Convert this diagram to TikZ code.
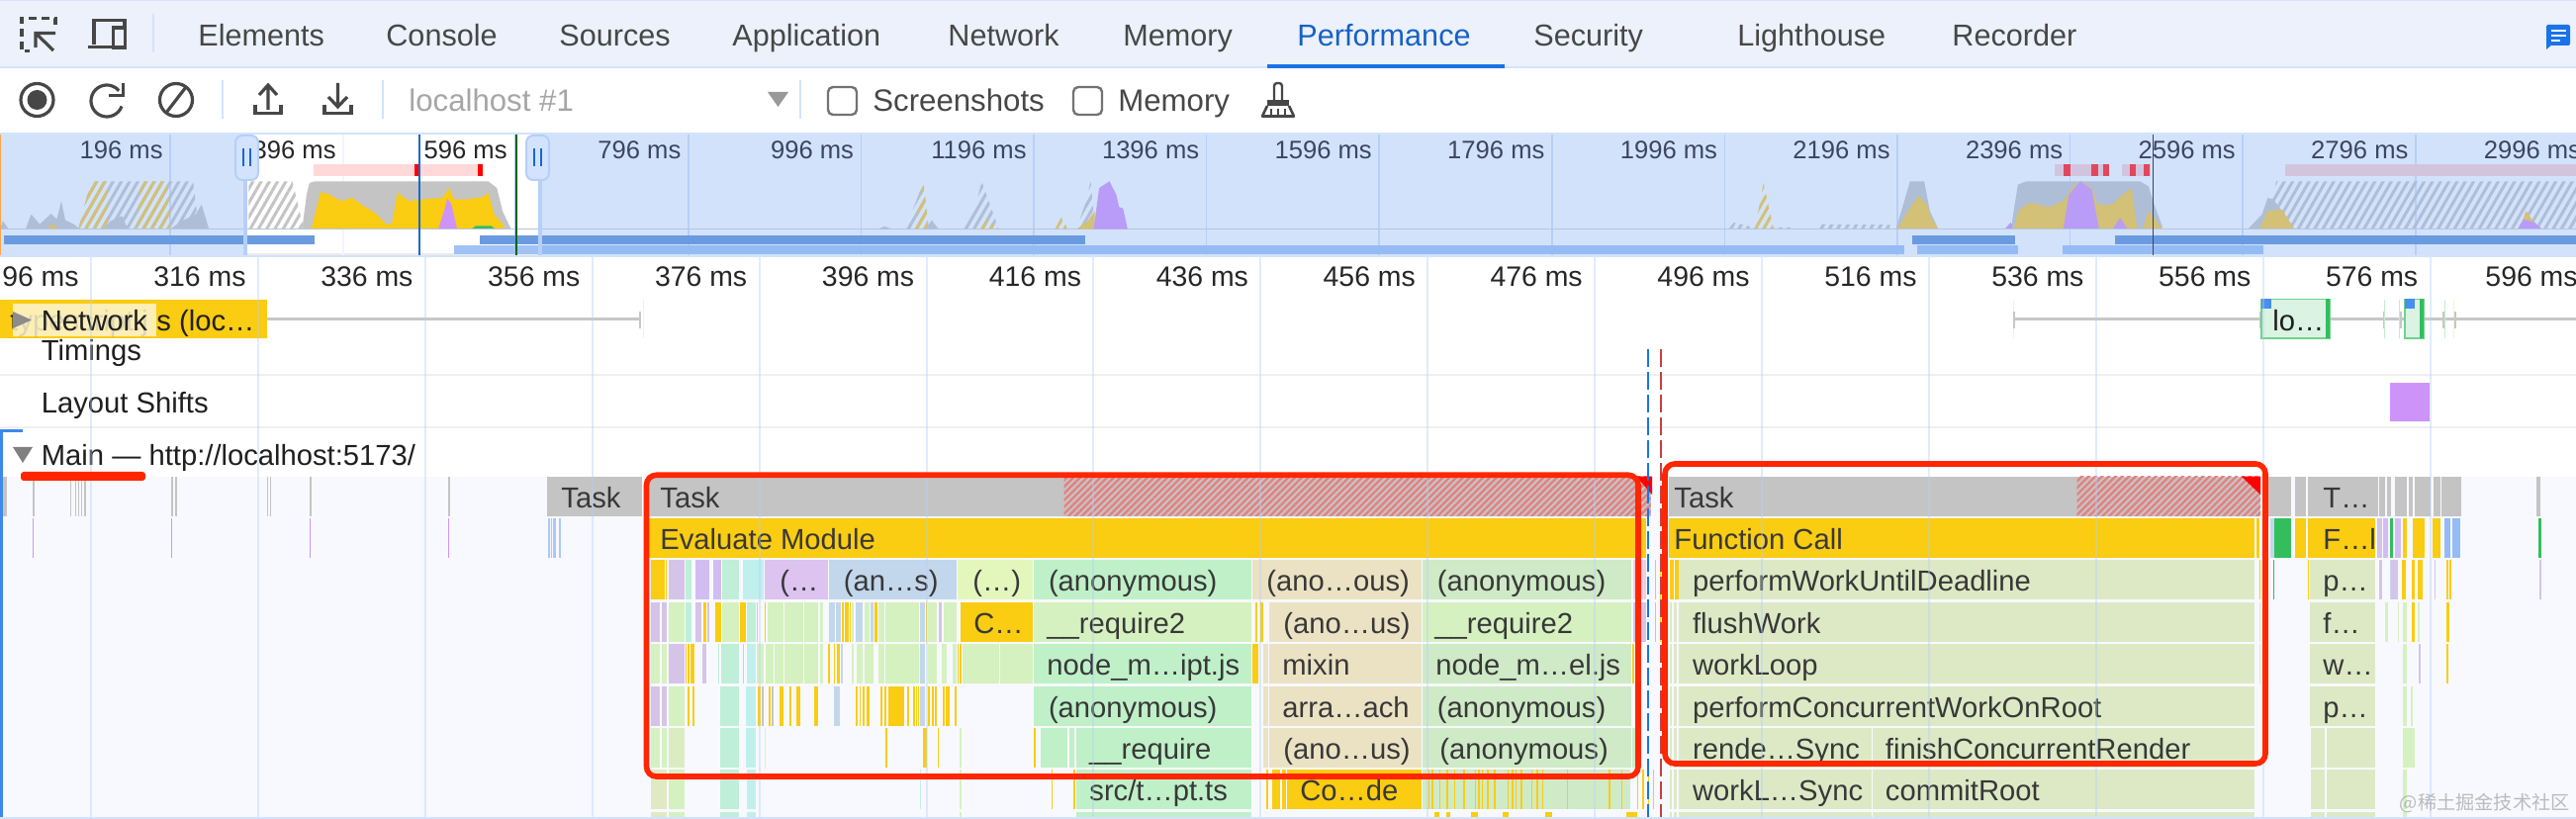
\documentclass[tikz,border=0pt]{standalone}
\usepackage{fontspec}
\setmainfont{Liberation Sans}
\newfontfamily\cjkfont{Noto Sans CJK SC}
\usetikzlibrary{patterns.meta}
\definecolor{tabbg}{HTML}{ECF1FB}
\definecolor{edgeblue}{HTML}{D3E3FD}
\definecolor{actblue}{HTML}{1A73E8}
\definecolor{icongray}{HTML}{474747}
\definecolor{ovbg}{HTML}{D3E2FB}
\definecolor{ovgrid}{HTML}{B5CFF8}
\definecolor{ovtext}{HTML}{3C4660}
\definecolor{barblue}{HTML}{6A9BE0}
\definecolor{barlight}{HTML}{95BBF5}
\definecolor{dimgray}{HTML}{AFBED7}
\definecolor{dimyel}{HTML}{D2C176}
\definecolor{dimpur}{HTML}{B89CF8}
\definecolor{dimpink}{HTML}{D3C4DD}
\definecolor{dimred}{HTML}{E0485E}
\definecolor{shiftpur}{HTML}{CE93F8}
\definecolor{mainbg}{HTML}{F8F9FE}
\definecolor{taskgray}{HTML}{C4C4C4}
\definecolor{longred}{HTML}{E58080}
\definecolor{yl}{HTML}{FACC12}
\definecolor{lav}{HTML}{D5C4E8}
\definecolor{mint}{HTML}{BFEFD8}
\definecolor{pur}{HTML}{D2BDF2}
\definecolor{cyn}{HTML}{C0F0EE}
\definecolor{lil}{HTML}{DCC3F0}
\definecolor{blu}{HTML}{C3D7EC}
\definecolor{lim}{HTML}{E3F7BD}
\definecolor{grn}{HTML}{BFF0C8}
\definecolor{pale}{HTML}{D5F1C0}
\definecolor{tan}{HTML}{EBE2C4}
\definecolor{pg}{HTML}{CFEAC6}
\definecolor{ol}{HTML}{DDE9C5}
\definecolor{pnk}{HTML}{F3CDE0}
\definecolor{boxred}{HTML}{FF2600}
\definecolor{sgreen}{HTML}{33BE5E}
\tikzset{
	tablabel/.style={anchor=base west, inner sep=0pt, yshift=-0.75pt, text=icongray, font=\fontsize{15.3}{18}\selectfont},
	toollabel/.style={anchor=base west, inner sep=0pt, yshift=-1pt, text=icongray, font=\fontsize{15.6}{18}\selectfont},
	ovlabel/.style={anchor=base east, inner sep=0pt, text=ovtext, font=\fontsize{12.8}{15}\selectfont},
	rulerlabel/.style={anchor=base east, inner sep=0pt, yshift=-0.3pt, text=black!85, font=\fontsize{14.2}{17}\selectfont},
	tracklabel/.style={anchor=base west, inner sep=0pt, yshift=-0.6pt, text=black!88, font=\fontsize{14.6}{18}\selectfont},
	flamelabel/.style={anchor=base west, inner sep=0pt, yshift=-0.75pt, text=black!78, font=\fontsize{14.6}{18}\selectfont},
	icon/.style={draw=icongray, line width=1.6pt},
	hatchdim/.style={pattern={Lines[angle=60,distance=3.6pt,line width=1.5pt]}, pattern color=dimgray},
	hatchyel/.style={pattern={Lines[angle=60,distance=3.6pt,line width=1.5pt]}, pattern color=dimyel},
	hatchgray/.style={pattern={Lines[angle=60,distance=3.6pt,line width=1.5pt]}, pattern color=taskgray},
	hatchred/.style={pattern={Lines[angle=45,distance=2.4pt,line width=1.2pt]}, pattern color=longred},
	redbox/.style={draw=boxred, line width=2.8pt, rounded corners=5pt},
	zoomleft/.style={xscale=0.574, yscale=0.3333},
	zoommid/.style={shift={(850,0)}, xscale=0.574, yscale=0.3333},
	zoomright/.style={shift={(1704,0)}, xscale=0.574, yscale=0.3333}
}
\newcommand{\flamerow}[2]{\foreach \xa/\xb/\cellcol in {#2}{\fill[\cellcol] (\xa,{481.6+42.4*#1}) rectangle (\xb,{521.6+42.4*#1});}}
\begin{document}
\begin{tikzpicture}[x=0.5pt,y=-0.5pt]
	\clip (0,0) rectangle (2604,828);
	\fill[white] (0,0) rectangle (2604,828);
	% tab bar
	\fill[tabbg] (0,0) rectangle (2604,67);
	\fill[edgeblue] (0,0) rectangle (2604,1.5);
	\fill[edgeblue] (0,67) rectangle (2604,69);
	\fill[edgeblue] (154,14) rectangle (156,53);
	\draw[icon, dash pattern=on 4pt off 2.4pt] (56,25) -- (56,18.5) -- (22,18.5) -- (22,51.5) -- (30,51.5);
	\draw[icon] (56,33.5) -- (36,33.5) -- (36,48) (36,33.5) -- (54,51);
	\draw[icon] (95,45) -- (95,20.5) -- (126,20.5) -- (126,27);
	\draw[icon] (89,47.5) -- (113,47.5);
	\draw[icon] (114.5,28) rectangle (126.5,48);
	\foreach \xx/\tabname in {200/Elements,390/Console,565/Sources,740/Application,958/Network,1135/Memory,1550/Security,1756/Lighthouse,1973/Recorder}
		\node[tablabel] (tab\tabname) at (\xx,45) {\tabname};
	\node[tablabel, text=actblue!85!black] (tabPerformance) at (1311,45) {Performance};
	\fill[actblue] (1281,65) rectangle (1520.5,69);
	\fill[actblue, rounded corners=1pt] (2574,25) rectangle (2598,46);
	\fill[actblue] (2574,44) -- (2574,50) -- (2581,44) -- cycle;
	\foreach \yy/\xe in {31/2594,36/2594,41/2588}
		\draw[white, line width=1.1pt] (2579,\yy) -- (\xe,\yy);
	% toolbar
	\draw[icon] (37.5,101) circle (16.5);
	\fill[icongray] (37.5,101) circle (10);
	\draw[icon] (108,102) ++(20:16) arc[start angle=20, end angle=320, radius=16];
	\draw[icon] (124.5,84) -- (124.5,96.5) -- (110,96.5);
	\draw[icon] (178,101) circle (16.5);
	\draw[icon] (168,114) -- (188,88);
	\foreach \xx in {224.5,387,809}
		\fill[edgeblue] (\xx-1,81) rectangle (\xx+1,120);
	\draw[icon] (271,111) -- (271,87) (262,96) -- (271,86) -- (280,96);
	\draw[icon] (258,106) -- (258,114.5) -- (284,114.5) -- (284,106);
	\draw[icon] (341.5,84) -- (341.5,108) (332,98) -- (341.5,108) -- (351,98);
	\draw[icon] (328,106) -- (328,114.5) -- (355,114.5) -- (355,106);
	\node[toollabel, text=black!35] (targetName) at (413,111) {localhost \#1};
	\fill[black!40] (776,93) -- (797,93) -- (786.5,108) -- cycle;
	\draw[black!55, line width=1.2pt, rounded corners=2.5pt] (837,88) rectangle (866,116);
	\node[toollabel] (lblScreenshots) at (882,111) {Screenshots};
	\draw[black!55, line width=1.2pt, rounded corners=2.5pt] (1085,88) rectangle (1114,116);
	\node[toollabel] (lblMemory) at (1130,111) {Memory};
	\draw[icongray, line width=1.2pt, rounded corners=1.5pt] (1288,101) -- (1288,84) -- (1296,84) -- (1296,101);
	\fill[icongray] (1281,101) rectangle (1303,107);
	\draw[icongray, line width=1.3pt, line join=round] (1281,107) -- (1276,117.5) -- (1308,117.5) -- (1303,107);
	\foreach \xx in {1285,1292,1299}
		\draw[icongray, line width=1pt] (\xx,110) -- (\xx,117);
	% overview
	\fill[ovbg] (0,134) rectangle (2604,258);
	\fill[white] (248,136) rectangle (545,258);
	\fill[edgeblue] (0,134) rectangle (2604,136);
	\fill[black!8] (248,256) rectangle (545,258);
	\foreach \k in {0,...,14}
		\fill[ovgrid] ({172+174.6*\k-0.8},136) rectangle ({172+174.6*\k+0.8},258);
	\begin{scope}[white!80!ovgrid]
		\fill (345.9,136) rectangle (347.5,258);
		\fill (520.5,136) rectangle (522,258);
	\end{scope}
	\begin{scope}[zoomleft]
		\fill[dimgray] (0,695) -- (5,670) -- (15,695) -- cycle;
		\fill[dimgray] (45,695) -- (55,650) -- (70,680) -- (90,648) -- (100,665) -- (108,610) -- (115,668) -- (130,680) -- (140,695) -- cycle;
		\path[hatchdim] (138,695) -- (160,550) -- (340,550) -- (345,620) -- (350,695) -- cycle;
		\path[hatchyel] (138,695) -- (160,550) -- (190,550) -- (190,695) -- cycle;
		\path[hatchyel] (240,695) -- (248,550) -- (295,550) -- (300,695) -- cycle;
		\fill[dimyel] (80,695) -- (92,680) -- (105,695) -- cycle;
		\fill[dimgray] (180,695) -- (195,670) -- (215,655) -- (225,695) -- cycle;
		\fill[dimgray] (300,695) -- (320,670) -- (345,650) -- (355,620) -- (368,695) -- cycle;
		\path[hatchgray] (438,695) -- (438,550) -- (515,550) -- (535,695) -- cycle;
		\fill[taskgray] (532,695) -- (540,590) -- (545,555) -- (555,550) -- (860,550) -- (875,570) -- (885,640) -- (900,695) -- cycle;
		\fill[yl] (548,695) -- (565,582) -- (580,590) -- (600,610) -- (620,600) -- (640,625) -- (660,645) -- (680,680) -- (690,680) -- (700,585) -- (720,610) -- (740,605) -- (780,600) -- (790,570) -- (800,605) -- (820,605) -- (850,598) -- (860,585) -- (870,650) -- (885,680) -- (888,695) -- cycle;
		\fill[shiftpur] (772,695) -- (782,640) -- (788,602) -- (795,620) -- (805,695) -- cycle;
		\fill[sgreen] (830,695) -- (838,685) -- (865,685) -- (872,695) -- cycle;
		\fill[red!15] (552,498) rectangle (850,533);
		\fill[red] (730,498) rectangle (738,533);
		\fill[red] (842,498) rectangle (851,533);
		\fill[barblue] (7,714) rectangle (554,741);
		\fill[barblue] (845,714) rectangle (1570,741);
		\fill[barlight!90!white] (800,744) rectangle (950,771);
		\fill[barlight] (950,744) rectangle (1570,771);
		\fill[dimgray!80!ovbg] (0,694) rectangle (4540,695.5);
	\end{scope}
	\begin{scope}[zoommid]
		\fill[barblue] (0,714) rectangle (430,741);
		\fill[barlight] (0,744) rectangle (1570,771);
		\fill[dimgray] (65,695) -- (77,687) -- (90,695) -- cycle;
		\path[hatchdim] (113,695) -- (135,600) -- (145,550) -- (155,695) -- cycle;
		\path[hatchyel] (130,695) -- (145,550) -- (155,695) -- cycle;
		\fill[dimgray] (150,695) -- (160,668) -- (172,695) -- cycle;
		\path[hatchdim] (215,695) -- (235,640) -- (248,550) -- (278,695) -- cycle;
		\path[hatchyel] (245,695) -- (258,665) -- (278,695) -- cycle;
		\path[hatchyel] (377,695) -- (388,660) -- (400,695) -- cycle;
		\path[hatchdim] (415,695) -- (430,620) -- (440,550) -- (447,695) -- cycle;
		\fill[dimyel] (415,695) -- (435,670) -- (447,640) -- (447,695) -- cycle;
		\fill[dimpur] (445,695) -- (455,570) -- (473,550) -- (485,590) -- (490,628) -- (497,632) -- (505,695) -- cycle;
	\end{scope}
	\begin{scope}[zoomright]
		\fill[barlight] (0,744) rectangle (385,771);
		\fill[barlight] (408,744) rectangle (585,771);
		\fill[barlight] (664,744) rectangle (1018,771);
		\fill[barblue] (399,714) rectangle (580,741);
		\fill[barblue] (756,714) rectangle (1570,741);
		\path[hatchdim] (75,695) -- (85,675) -- (120,690) -- (190,690) -- (190,695) -- cycle;
		\path[hatchdim] (225,695) -- (240,680) -- (360,682) -- (360,695) -- cycle;
		\path[hatchyel] (122,695) -- (137,555) -- (155,695) -- cycle;
		\fill[dimgray] (370,695) -- (385,610) -- (395,550) -- (420,550) -- (430,640) -- (445,695) -- cycle;
		\fill[dimyel] (372,695) -- (395,630) -- (410,595) -- (425,620) -- (432,660) -- (445,695) -- cycle;
		\fill[dimpur] (562,695) -- (572,675) -- (583,695) -- cycle;
		\fill[dimgray] (575,670) -- (585,560) -- (600,550) -- (800,550) -- (815,565) -- (825,620) -- (840,690) -- (800,695) -- (575,695) -- cycle;
		\fill[dimyel] (578,695) -- (585,640) -- (605,615) -- (640,628) -- (665,610) -- (680,570) -- (695,550) -- (715,570) -- (725,620) -- (750,622) -- (770,590) -- (785,570) -- (795,690) -- (805,695) -- (815,640) -- (840,695) -- cycle;
		\fill[dimpur] (665,695) -- (675,590) -- (695,550) -- (715,575) -- (728,695) -- cycle;
		\fill[dimpur] (752,695) -- (765,660) -- (778,695) -- cycle;
		\path[hatchdim] (1020,695) -- (1040,550) -- (1570,550) -- (1570,695) -- cycle;
		\fill[dimgray] (990,695) -- (1015,650) -- (1025,600) -- (1035,605) -- (1050,640) -- (1072,695) -- cycle;
		\fill[dimyel] (1010,695) -- (1025,640) -- (1050,635) -- (1072,695) -- cycle;
		\fill[dimyel] (1468,695) -- (1480,640) -- (1492,670) -- (1508,695) -- cycle;
		\fill[dimpur] (1465,695) -- (1475,665) -- (1495,675) -- (1508,695) -- cycle;
		\fill[dimgray!80!ovbg] (0,694) rectangle (1570,695.5);
		\fill[dimpink] (650,498) rectangle (745,533);
		\fill[dimpink] (768,498) rectangle (818,533);
		\fill[dimpink] (1056,498) rectangle (1570,533);
		\foreach \xa/\xb in {666/678,714/726,735/745,782/793,807/817}
			\fill[dimred] (\xa,498) rectangle (\xb,533);
	\end{scope}
	\fill[orange!70!white] (0,136) rectangle (1.2,258);
	\fill[actblue!90!black] (423.2,136) rectangle (425.2,258);
	\fill[green!40!black] (521.2,136) rectangle (522.8,258);
	\fill[blue!20!black!75!white] (2175.6,136) rectangle (2177.4,258);
	\foreach \k/\ovms in {0/196,3/796,4/996,5/1196,6/1396,7/1596,8/1796,9/1996,10/2196,11/2396,12/2596,13/2796,14/2996}
		\node[ovlabel] (ov\ovms) at ({165+174.6*\k},161) {\ovms\ ms};
	\node[ovlabel, text=black!85] (ov396) at (340,161) {396 ms};
	\node[ovlabel, text=black!85] (ov596) at (513,161) {596 ms};
	\foreach \hx/\sx in {238/246,532/544}{
		\fill[ovgrid] (\sx,180) rectangle (\sx+4,258);
		\draw[ovgrid, fill=edgeblue, line width=1pt, rounded corners=3.5pt] (\hx,137) rectangle (\hx+23,182);
		\fill[actblue!90!black] (\hx+7,150) rectangle (\hx+9,168);
		\fill[actblue!90!black] (\hx+14,150) rectangle (\hx+16,168);
	}
	% ruler
	\fill[edgeblue] (0,258) rectangle (2604,260);
	\foreach \k/\rulerms in {0/96,1/316,2/336,3/356,4/376,5/396,6/416,7/436,8/456,9/476,10/496,11/516,12/536,13/556,14/576}
		\node[rulerlabel] (ruler\rulerms) at ({80+168.9*\k},289) {\rulerms\ ms};
	\node[rulerlabel] (ruler596) at (2606,289) {596 ms};
	% tracks
	\fill[yl] (0,303) rectangle (270,342);
	\node[tracklabel] (netClip) at (10,333) {typescript.j};
	\node[tracklabel] (netRest) at (158,333) {s (loc…};
	\fill[yl!20!white, opacity=0.85] (13,307) rectangle (158,340);
	\fill[black!45] (13,315) -- (32,323.5) -- (13,332) -- cycle;
	\node[tracklabel] (lblNetwork) at (41.5,333) {Network};
	\fill[yl!25!white] (650,303) rectangle (651,342);
	\fill[yl!25!white] (2035,303) rectangle (2036,342);
	\fill[yl!25!white] (2480,303) rectangle (2481,342);
	\fill[black!22] (270,321.5) rectangle (647,324.5);
	\fill[black!22] (2036,321.5) rectangle (2604,324.5);
	\foreach \xx in {646,2035,2284,2409,2426,2469,2481}
		\fill[black!22] (\xx,315) rectangle (\xx+2.4,332);
	\foreach \xx in {2410,2425,2471}
		\fill[sgreen!30!white] (\xx,303) rectangle (\xx+1,342);
	\draw[sgreen!70!white, fill=sgreen!18!white, line width=0.6pt] (2286,302.5) rectangle (2355,342);
	\fill[sgreen] (2351,302.5) rectangle (2355,342);
	\fill[actblue!80!white] (2286,302.5) rectangle (2296,312);
	\node[tracklabel] (lblLo) at (2297,333) {lo…};
	\draw[sgreen!70!white, fill=sgreen!18!white, line width=0.6pt] (2431,302.5) rectangle (2450,342);
	\fill[sgreen] (2446,302.5) rectangle (2450,342);
	\fill[actblue!80!white] (2431,302.5) rectangle (2441,312);
	\node[tracklabel, yshift=-0.4pt] (lblTimings) at (41.5,363) {Timings};
	\fill[black!6] (0,378) rectangle (2604,380);
	\node[tracklabel] (lblShifts) at (41.5,416.7) {Layout Shifts};
	\fill[shiftpur] (2416,387) rectangle (2456,426);
	\fill[black!6] (0,431) rectangle (2604,433);
	\fill[black!50] (13,452) -- (33,452) -- (23,468) -- cycle;
	\node[tracklabel] (lblMain) at (41.5,469) {Main — http://localhost:5173/};
	% flame chart
	\fill[mainbg] (3,481.6) rectangle (2604,826);
	\fill[actblue!85!white] (0,434) rectangle (3,828);
	\fill[actblue!85!white] (0,434) rectangle (23,437);
	\fill[taskgray] (553,481.6) rectangle (649,521.6);
	\foreach \xa/\xb in {3/7,33/34.5,70.5/72,76/77,79/80,82/83,85/87,173/175,177/179,270/271,273/274,313/314.5,453/454.5}
		\fill[taskgray] (\xa,481.6) rectangle (\xb,521.6);
	\foreach \xx in {33.2,173,313,453.2}
		\fill[shiftpur] (\xx,524) rectangle (\xx+1.2,564);
	\foreach \xa/\xb in {553.5/555.5,557/558,559/562,565/566.5}
		\fill[barlight!80!white] (\xa,524) rectangle (\xb,564);
	\node[flamelabel] (taskA) at (567,511.6) {Task};
	% long task with module evaluation
	\fill[taskgray] (656.4,481.6) rectangle (1668.6,521.6);
	\path[hatchred] (1075.7,481.6) rectangle (1668.6,521.6);
	\fill[red] (1654,481.6) -- (1670,481.6) -- (1670,500) -- cycle;
	\node[flamelabel] (taskB) at (667,511.6) {Task};
	\fill[yl] (656.4,524) rectangle (1664,564);
	\node[flamelabel] (evalModule) at (667,554) {Evaluate Module};
	\begin{scope}[shift={(640,0)}, xscale=0.3571]
		\flamerow{2}{50/90/yl,93/95/yl,100/146/lav,148/165/mint,176/215/pur,228/248/pur,253/300/mint,310/370/cyn,372/552/lil,554/916/blu,918/1132/lim,1135/1750/grn}
		\flamerow{3}{50/75/lav,80/95/lav,100/146/pale,148/165/mint,176/192/lav,198/208/yl,210/215/lav,232/248/yl,253/300/pale,303/318/yl,322/348/mint,350/354/lav,373/376/yl,380/425/pale,428/482/pale,485/523/pale,530/538/pale,554/572/blu,575/588/blu,590/596/yl,598/610/yl,612/615/yl,618/625/pale,630/650/blu,655/670/pale,672/680/blu,682/692/yl,695/712/pale,715/810/pale,813/825/blu,828/832/yl,835/860/pale,864/875/lav,878/915/pale,926/1132/yl,1135/1750/pale}
		\flamerow{4}{50/75/pale,80/95/pale,100/146/lav,148/152/yl,155/160/yl,163/173/yl,197/208/lav,240/245/mint,248/300/mint,310/315/lav,322/348/cyn,350/370/pale,375/397/pale,400/425/pale,428/482/pale,485/523/pale,530/538/pale,553/557/yl,568/572/yl,576/586/yl,588/594/blu,618/625/pale,632/650/pale,655/680/pale,695/712/pale,715/810/pale,813/825/blu,835/860/pale,875/887/pale,905/915/pale,918/921/yl,925/930/yl,932/1035/pale,1038/1132/pale,1135/1750/grn}
		\flamerow{5}{50/75/lav,80/95/lav,100/146/pale,155/160/yl,168/173/yl,247/300/mint,318/348/cyn,352/362/yl,364/370/taskgray,385/389/yl,393/397/taskgray,415/425/yl,442/447/yl,462/472/yl,512/523/yl,568/585/blu,630/636/yl,640/645/yl,650/655/yl,660/670/yl,700/706/yl,711/718/yl,722/767/yl,775/782/yl,793/797/yl,801/805/yl,807/810/yl,813/825/blu,835/840/yl,845/850/yl,854/860/yl,876/881/yl,886/895/yl,910/915/yl,1135/1750/grn}
		\flamerow{6}{50/75/pale,80/95/pale,100/146/pale!70!tan,247/300/mint,318/348/cyn,372/376/pale,715/719/yl,820/831/yl,862/866/yl,925/930/pale,1135/1139/yl,1155/1230/grn,1234/1250/grn,1254/1750/grn}
		\flamerow{7}{50/96/pale!50!tan,100/146/pale,247/300/mint,322/348/cyn,812/816/cyn,925/930/pale,1185/1188/yl,1247/1251/yl,1254/1750/grn}
		\flamerow{8}{50/96/pale!50!tan,100/146/pale,247/300/mint,322/348/cyn,925/930/pale,1254/1750/grn}
	\end{scope}
	\begin{scope}[shift={(1180,0)}, xscale=0.3571]
		\flamerow{2}{240/720/tan,722/1314/pg,1318/1355/pnk}
		\flamerow{3}{250/256/yl,262/272/yl,288/720/tan,722/1314/pale,1318/1355/lav,1380/1384/yl}
		\flamerow{4}{240/258/yl,272/286/tan,288/720/tan,722/1314/pg,1316/1322/yl}
		\flamerow{5}{272/286/tan,288/720/tan,722/1314/pg}
		\flamerow{6}{272/286/tan,288/720/tan,722/1314/pg,1316/1340/pg}
		\flamerow{7}{280/286/yl,296/318/yl,325/335/yl,340/720/yl,722/1310/pg}
		\flamerow{8}{755/770/yl,790/800/yl,860/880/yl,950/965/yl,1070/1090/yl,1300/1330/yl}
		\foreach \xx in {738,748,770,790,812,838,870,880,890,905,925,962,975,985,1000,1030,1045,1060,1130,1250,1285}
			\fill[yl] (\xx,778.4) rectangle (\xx+4,818.4);
		\foreach \xx in {1330,1345,1360,1375}
			\fill[yl] (\xx,778.4) rectangle (\xx+4,818.4);
		\foreach \xa/\xb/\rr in {1380/1384/2,1395/1398/2,1395/1398/3,1405/1410/2}
			\fill[yl] (\xa,{481.6+42.4*\rr}) rectangle (\xb,{521.6+42.4*\rr});
	\end{scope}
	\node[flamelabel] (cellParen) at (788,596.4) {(…};
	\node[flamelabel] (cellAns) at (852.5,596.4) {(an…s)};
	\node[flamelabel] (cellDots) at (983,596.4) {(…)};
	\node[flamelabel] (cellAnonA) at (1059.6,596.4) {(anonymous)};
	\node[flamelabel] (cellAnoOus) at (1280,596.4) {(ano…ous)};
	\node[flamelabel] (cellAnonB) at (1452.5,596.4) {(anonymous)};
	\node[flamelabel] (cellC) at (984,638.8) {C…};
	\node[flamelabel] (cellRequireA) at (1058,638.8) {\_\_require2};
	\node[flamelabel] (cellAnoA) at (1297,638.8) {(ano…us)};
	\node[flamelabel] (cellRequireB) at (1450,638.8) {\_\_require2};
	\node[flamelabel] (cellNodeA) at (1058,681.2) {node\_m…ipt.js};
	\node[flamelabel] (cellMixin) at (1296,681.2) {mixin};
	\node[flamelabel] (cellNodeB) at (1451,681.2) {node\_m…el.js};
	\node[flamelabel] (cellAnonC) at (1059.6,723.6) {(anonymous)};
	\node[flamelabel] (cellArray) at (1296,723.6) {arra…ach};
	\node[flamelabel] (cellAnonD) at (1452.5,723.6) {(anonymous)};
	\node[flamelabel] (cellRequireC) at (1100.7,766) {\_\_require};
	\node[flamelabel] (cellAnoB) at (1297,766) {(ano…us)};
	\node[flamelabel] (cellAnonE) at (1455,766) {(anonymous)};
	\node[flamelabel] (cellSrc) at (1101,808.4) {src/t…pt.ts};
	\node[flamelabel] (cellCode) at (1314,808.4) {Co…de};
	% second long task
	\fill[taskgray] (1686.7,481.6) rectangle (2285,521.6);
	\path[hatchred] (2099.7,481.6) rectangle (2285,521.6);
	\fill[red] (2265.7,481.6) -- (2285,481.6) -- (2285,500) -- cycle;
	\fill[yl] (1686.7,524) rectangle (2279,564);
	\begin{scope}[shift={(1640,0)}, xscale=0.6146]
		\flamerow{0}{1063/1100/taskgray,1106/1125/taskgray,1128/1243/taskgray,1245/1255/taskgray,1258/1265/taskgray,1270/1290/taskgray,1293/1300/taskgray,1304/1330/taskgray,1334/1345/taskgray,1348/1380/taskgray,1503/1510/taskgray}
		\flamerow{1}{1043/1048/yl,1052/1062/yl,1065/1072/blu,1073/1100/sgreen,1107/1125/yl,1128/1238/yl,1241/1250/lav,1252/1260/pur,1262/1267/sgreen,1270/1280/pur,1283/1291/yl,1300/1320/yl,1332/1345/yl,1352/1362/barlight,1365/1378/barlight,1506/1511/sgreen}
		\flamerow{2}{78/84/yl,87/92/yl,92/1040/ol,1047/1050/yl,1070/1072/sgreen,1127/1129/yl,1130/1238/ol,1245/1250/lav,1262/1265/blu,1265/1275/lav,1282/1288/yl,1298/1304/yl,1308/1316/yl,1335/1337/lav,1355/1358/yl,1361/1364/yl,1509/1511/lav}
		\flamerow{3}{78/82/ol,85/90/ol,92/1040/ol,1047/1050/ol,1130/1238/ol,1255/1259/pale,1275/1277/ol,1283/1290/pale,1298/1303/yl,1308/1312/pale,1356/1361/yl}
		\flamerow{4}{78/82/ol,85/90/ol,92/1040/ol,1047/1050/ol,1130/1238/ol,1283/1291/pale,1310/1313/lav,1356/1358/yl}
		\flamerow{5}{78/82/ol,85/90/ol,92/1040/ol,1130/1238/ol,1283/1291/pale,1297/1300/pale}
		\flamerow{6}{78/82/ol,85/90/ol,92/410/ol,412/1040/ol,1132/1156/ol,1159/1238/ol,1283/1303/pale}
		\flamerow{7}{78/82/ol,85/90/ol,92/410/ol,412/1040/ol,1132/1156/ol,1159/1238/ol,1283/1290/pale}
		\flamerow{8}{78/82/ol,85/90/ol,92/410/ol,412/1040/ol,1132/1156/ol,1159/1238/ol,1283/1290/pale}
	\end{scope}
	\node[flamelabel] (taskC) at (1692,511.6) {Task};
	\node[flamelabel] (fnCall) at (1692,554) {Function Call};
	\node[flamelabel] (taskT) at (2348,511.6) {T…};
	\node[flamelabel] (fnF) at (2348,554) {F…l};
	\node[flamelabel] (perfUntil) at (1710.7,596.4) {performWorkUntilDeadline};
	\node[flamelabel] (flushWork) at (1710.7,638.8) {flushWork};
	\node[flamelabel] (workLoop) at (1710.7,681.2) {workLoop};
	\node[flamelabel] (perfRoot) at (1710.7,723.6) {performConcurrentWorkOnRoot};
	\node[flamelabel] (renderSync) at (1710.7,766) {rende…Sync};
	\node[flamelabel] (finishRender) at (1905.5,766) {finishConcurrentRender};
	\node[flamelabel] (workSync) at (1710.7,808.4) {workL…Sync};
	\node[flamelabel] (commitRoot) at (1905.5,808.4) {commitRoot};
	\node[flamelabel] (cellP) at (2348,596.4) {p…};
	\node[flamelabel] (cellF) at (2348,638.8) {f…};
	\node[flamelabel] (cellW) at (2348,681.2) {w…};
	\node[flamelabel] (cellPb) at (2348,723.6) {p…};
	\fill[edgeblue] (0,826) rectangle (2604,828);
	% time grid
	\foreach \k in {0,...,14}
		\fill[ovgrid, opacity=0.4] ({92+168.9*\k-1},260) rectangle ({92+168.9*\k+1},826);
	\draw[actblue, line width=1pt, dash pattern=on 9pt off 2.5pt] (1666.4,353) -- (1666.4,826);
	\draw[red!70!black!75!white, line width=1pt, dash pattern=on 9pt off 2.5pt] (1678.7,353) -- (1678.7,826);
	% annotations
	\draw[redbox] (653.5,480.3) rectangle (1656,785);
	\draw[redbox] (1683,469) rectangle (2290,772);
	\fill[boxred, rounded corners=1.5pt] (21,477) rectangle (147,486);
	\node[anchor=east, inner sep=0pt, text=black!35, opacity=0.75, font=\cjkfont\fontsize{9.6}{11}\selectfont] (watermark) at (2598,812.5) {@稀土掘金技术社区};
\end{tikzpicture}
\end{document}
